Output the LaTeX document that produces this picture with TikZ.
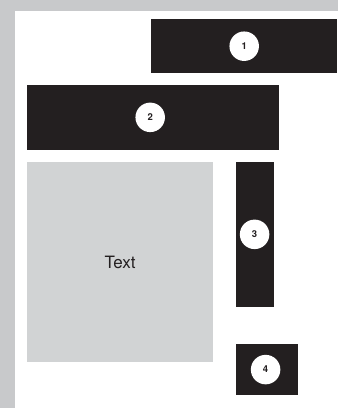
\documentclass[tikz,border=0pt]{standalone}
\usepackage{fontspec}
\setmainfont{TeX Gyre Heros}
\usepackage{xcolor}
\usepackage{tikz}
\usetikzlibrary{positioning,calc}
\definecolor{lotdark}{RGB}{35,31,32}
\definecolor{lotframe}{RGB}{200,201,203}
\definecolor{lotgray}{RGB}{209,211,212}

\begin{document}
\begin{tikzpicture}[
  x=1pt, y=1pt,
  lot/.style={rectangle, draw=none, inner sep=0pt, anchor=north west},
  darklot/.style={lot, fill=lotdark},
  graylot/.style={lot, fill=lotgray, font=\fontsize{17}{20}\selectfont, text=lotdark},
  numdot/.style={circle, fill=white, minimum size=29.5pt, inner sep=0pt,
                 font=\fontsize{9.5}{11}\selectfont\bfseries, text=lotdark}
]

% frame and paper
\fill[lotframe] (0,0) rectangle (338,408);
\fill[white] (15,0) rectangle (338,397);
\useasboundingbox (0,0) rectangle (338,408);

% lot 1
\node[darklot, minimum width=186pt, minimum height=54pt] (lot1) at (151,389) {};
\node[numdot] (n1) at (lot1.center) {1};

% lot 2
\node[darklot, minimum width=252pt, minimum height=65.5pt,
      below=11pt of lot1.south west, anchor=north west, xshift=-124pt] (lot2) {};
\node[numdot] (n2) at ([xshift=-3pt]lot2.center) {2};

% open area
\node[graylot, minimum width=186pt, minimum height=200.5pt,
      below=11.5pt of lot2.south west, anchor=north west] (area) {Text};

% lot 3
\node[darklot, minimum width=38pt, minimum height=144.7pt,
      right=22pt of area.north east, anchor=north west] (lot3) {};
\node[numdot] (n3) at (lot3.center) {3};

% lot 4
\node[darklot, minimum width=62pt, minimum height=51pt,
      below=37pt of lot3.south west, anchor=north west] (lot4) {};
\node[numdot] (n4) at ([xshift=-1pt]lot4.center) {4};

\end{tikzpicture}
\end{document}
